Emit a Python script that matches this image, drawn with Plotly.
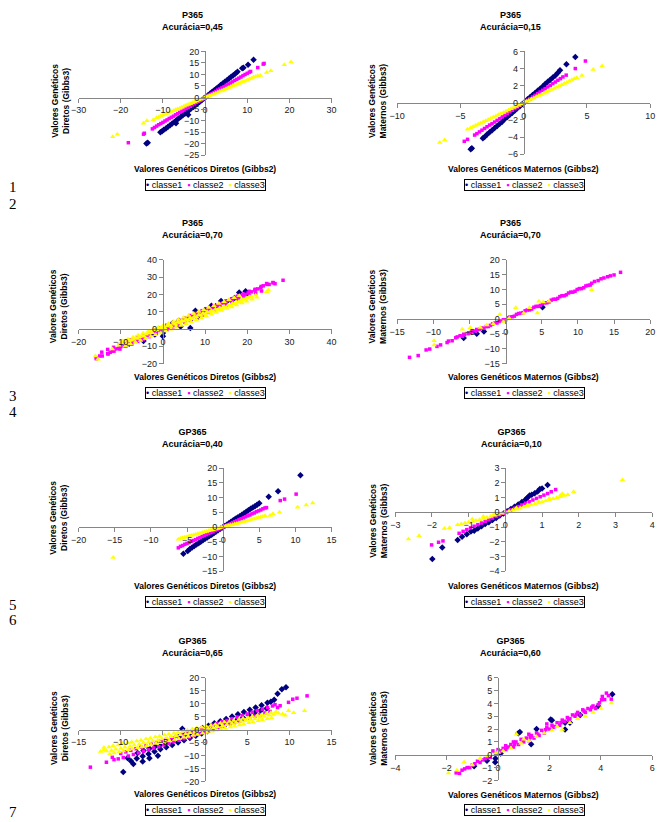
import plotly.graph_objects as go

W, H = 664, 822

# ---------------- data ((x, y) pairs) ----------------
classes = ["classe1", "classe2", "classe3"]

p1_classe1 = [(-13.9,-19.9),(-13.6,-19.6),(-10.6,-15.1),(-10.2,-14.6),(-9.8,-14.0),(-9.3,-13.4),(-8.8,-12.7),(-8.3,-12.0),(-7.8,-11.3),(-7.3,-10.6),(-6.9,-11.2),(-6.8,-9.9),(-6.3,-9.1),(-5.8,-8.4),(-5.3,-7.7),(-4.8,-7.0),(-4.3,-6.2),(-4.0,-7.5),(-3.8,-5.5),(-3.3,-4.8),(-2.8,-4.1),(-2.3,-3.3),(-1.8,-2.6),(-1.3,-1.9),(-0.8,-1.2),(-0.3,-0.4),(0.2,0.3),(0.7,1.0),(1.2,1.7),(1.7,2.5),(2.2,3.2),(2.7,3.9),(3.2,4.6),(3.7,5.4),(4.2,6.1),(4.7,6.8),(5.2,7.5),(5.7,8.3),(6.2,9.0),(6.7,9.7),(7.2,10.4),(7.7,11.2),(8.8,12.7),(9.1,12.9),(10.2,14.2),(11.5,16.4)]
p1_classe2 = [(-18.2,-19.6),(-14.6,-15.9),(-14.4,-15.5),(-12.5,-13.6),(-12.0,-13.0),(-11.5,-12.4),(-11.0,-11.8),(-10.5,-11.3),(-10.0,-10.8),(-9.5,-10.2),(-9.0,-9.7),(-8.5,-9.1),(-8.0,-8.6),(-7.5,-8.1),(-7.0,-7.5),(-6.5,-7.0),(-6.0,-6.4),(-5.5,-5.9),(-5.0,-5.4),(-4.5,-4.8),(-4.0,-4.3),(-3.5,-3.8),(-3.0,-3.2),(-2.5,-2.7),(-2.0,-2.1),(-1.5,-1.6),(-1.0,-1.1),(-0.5,-0.5),(0.0,0.0),(0.5,0.5),(1.0,1.1),(1.5,1.6),(2.0,2.1),(2.5,2.6),(3.0,3.2),(3.5,3.7),(4.0,4.2),(4.5,4.7),(5.0,5.3),(5.5,5.8),(6.0,6.3),(6.5,6.8),(7.0,7.4),(7.5,7.9),(8.0,8.4),(8.5,8.9),(9.0,9.5),(9.5,10.0),(10.0,10.5),(10.5,11.0),(10.8,11.3),(12.5,13.0),(13.8,14.5),(14.0,14.8)]
p1_classe3 = [(-21.9,-17.0),(-20.8,-15.9),(-14.6,-11.2),(-13.8,-10.1),(-12.3,-9.7),(-11.5,-8.8),(-11.0,-8.4),(-10.5,-8.0),(-10.0,-7.6),(-9.5,-7.2),(-9.0,-6.9),(-8.5,-6.5),(-8.0,-6.1),(-7.5,-5.7),(-7.0,-5.3),(-6.5,-5.0),(-6.0,-4.6),(-5.5,-4.2),(-5.0,-3.8),(-4.5,-3.4),(-4.0,-3.0),(-3.5,-2.7),(-3.0,-2.3),(-2.5,-1.9),(-2.0,-1.5),(-1.5,-1.1),(-1.0,-0.8),(-0.5,-0.4),(0.0,0.0),(0.5,0.4),(1.0,0.8),(1.5,1.1),(2.0,1.5),(2.5,1.9),(3.0,2.3),(3.5,2.7),(4.0,3.0),(4.5,3.4),(5.0,3.8),(5.5,4.2),(6.0,4.6),(6.5,5.0),(7.0,5.3),(7.5,5.7),(8.0,6.1),(8.5,6.5),(9.0,6.9),(9.5,7.2),(10.0,7.6),(10.5,8.0),(11.0,8.4),(11.5,8.8),(12.0,9.1),(12.5,9.4),(13.1,9.6),(14.6,10.9),(15.6,11.6),(18.8,14.2),(20.4,15.4)]

p2_classe1 = [(-4.19,-5.42),(-4.1,-5.3),(-3.23,-4.15),(-3.1,-4.0),(-2.9,-3.7),(-2.7,-3.45),(-2.5,-3.2),(-2.3,-2.95),(-2.1,-2.7),(-1.9,-2.45),(-1.7,-2.2),(-1.5,-1.9),(-1.3,-1.65),(-1.1,-1.4),(-0.9,-1.15),(-0.7,-0.9),(-0.5,-0.65),(-0.3,-0.4),(-0.1,-0.13),(0.1,0.13),(0.3,0.4),(0.5,0.65),(0.7,0.9),(0.9,1.15),(1.1,1.4),(1.3,1.65),(1.5,1.9),(1.7,2.2),(1.9,2.45),(2.1,2.7),(2.3,2.95),(2.5,3.2),(2.7,3.5),(2.87,3.8),(3.38,4.5),(4.08,5.34)]
p2_classe2 = [(-4.7,-4.5),(-4.44,-4.27),(-3.88,-3.77),(-3.7,-3.6),(-3.5,-3.4),(-3.3,-3.2),(-3.1,-3.0),(-2.9,-2.8),(-2.7,-2.6),(-2.5,-2.45),(-2.3,-2.25),(-2.1,-2.05),(-1.9,-1.85),(-1.7,-1.65),(-1.5,-1.45),(-1.3,-1.25),(-1.1,-1.05),(-0.9,-0.87),(-0.7,-0.68),(-0.5,-0.48),(-0.3,-0.29),(-0.1,-0.1),(0.1,0.1),(0.3,0.29),(0.5,0.48),(0.7,0.68),(0.9,0.87),(1.1,1.07),(1.3,1.26),(1.5,1.46),(1.7,1.65),(1.9,1.85),(2.1,2.04),(2.3,2.24),(2.5,2.43),(2.7,2.63),(2.9,2.82),(3.1,3.02),(3.36,3.23),(4.08,4.0),(4.88,4.88)]
p2_classe3 = [(-6.64,-4.65),(-6.25,-4.35),(-4.44,-3.1),(-4.2,-2.95),(-4.0,-2.8),(-3.8,-2.66),(-3.6,-2.52),(-3.4,-2.38),(-3.2,-2.24),(-3.0,-2.1),(-2.8,-1.96),(-2.6,-1.82),(-2.4,-1.68),(-2.2,-1.54),(-2.0,-1.4),(-1.8,-1.26),(-1.6,-1.12),(-1.4,-0.98),(-1.2,-0.84),(-1.0,-0.7),(-0.8,-0.56),(-0.6,-0.42),(-0.4,-0.28),(-0.2,-0.14),(0.0,0.0),(0.2,0.14),(0.4,0.28),(0.6,0.42),(0.8,0.56),(1.0,0.7),(1.2,0.84),(1.4,0.98),(1.6,1.12),(1.8,1.26),(2.0,1.4),(2.2,1.54),(2.4,1.68),(2.6,1.82),(2.8,1.96),(3.0,2.1),(3.2,2.24),(3.4,2.38),(3.6,2.52),(3.8,2.66),(4.0,2.8),(4.2,2.94),(4.6,3.2),(5.5,3.9),(6.2,4.3)]

p3_classe1 = [(19.6,21.9),(18.1,21.1),(16.2,16.8),(13.8,16.2),(11.5,13.5),(7.7,10.5),(8.5,7.2),(6.5,5.3),(4.2,1.5),(6.5,0.6),(3.8,4.8),(0.0,-4.2),(-4.6,-7.0),(0.0,-2.3),(-1.9,-3.2),(2.3,3.4),(5.0,5.7),(15.0,15.5),(10.0,11.0),(12.5,13.2),(17.0,18.0),(20.0,20.5),(-2.0,-1.5),(1.0,0.5),(-8.0,-8.5)]
p3_classe2 = [(-15.8,-16.6),(-15.0,-15.6),(-13.1,-14.3),(-12.5,-13.5),(-12.0,-12.8),(-11.2,-11.5),(-10.5,-11.2),(-10.0,-10.2),(-9.2,-9.8),(-8.5,-8.6),(-8.0,-8.3),(-7.2,-7.5),(-6.5,-6.2),(-6.0,-6.8),(-5.2,-5.0),(-4.5,-4.6),(-3.8,-3.5),(-3.0,-3.2),(-2.2,-2.0),(-1.5,-1.8),(-0.8,-0.5),(0.0,-0.3),(0.8,1.0),(1.5,1.2),(2.3,2.6),(3.0,3.4),(3.8,3.5),(4.5,4.9),(5.2,5.6),(6.0,6.3),(6.8,7.2),(7.5,7.5),(8.2,8.9),(9.0,9.2),(9.8,10.4),(10.5,10.8),(11.2,11.9),(12.0,12.3),(12.8,13.4),(13.5,13.8),(14.2,15.0),(15.0,15.3),(15.8,16.5),(16.5,16.9),(17.2,18.0),(18.0,18.4),(18.8,19.5),(19.5,19.9),(20.2,20.8),(21.0,21.5),(21.8,22.5),(22.5,23.2),(23.2,23.9),(23.8,25.0),(24.6,26.3),(25.2,25.8),(26.2,26.7),(26.6,26.2),(28.5,28.2),
              (-14.5,-13.4),(-13.1,-11.8),(-11.7,-10.6),(-10.3,-9.0),(-8.9,-7.7),(-7.5,-6.2),(-6.1,-4.9),(-4.7,-3.4),(-3.3,-2.1),(-1.9,-0.6),(-0.5,0.7),(0.9,2.2),(2.3,3.5),(3.7,5.0),(5.1,6.2),(6.5,7.8),(7.9,9.0),(9.3,10.6),(10.7,11.8),(12.1,13.4),(13.5,14.6),(14.9,16.2),(16.3,17.4),(17.7,19.0),(19.1,20.2),(20.5,21.8),(21.9,23.0),(23.3,24.6),(24.7,25.8),(26.1,26.9),
              (-15.8,-17.2),(-14.4,-15.6),(-13.0,-14.4),(-11.6,-12.8),(-10.2,-11.6),(-8.8,-10.0),(-7.4,-8.8),(-6.0,-7.2),(-4.6,-5.9),(-3.2,-4.4),(-1.8,-3.1),(-0.4,-1.6),(1.0,-0.3),(2.4,1.2),(3.8,2.5),(5.2,4.0),(6.6,5.2),(8.0,6.8),(9.4,8.0),(10.8,9.6),(12.2,10.8),(13.6,12.4),(15.0,13.6),(16.4,15.2),(17.8,16.4),(19.2,18.0),(20.6,19.2),(22.0,20.8),(23.4,22.0)]
p3_classe3 = [(-16.0,-15.6),(-15.4,-17.5),(-12.0,-11.5),(-10.5,-9.4),(-9.8,-8.0),(-9.2,-7.0),(-8.5,-8.2),(-8.0,-7.0),(-7.5,-6.5),(-7.0,-6.0),(-6.5,-5.0),(-6.0,-5.5),(-5.5,-4.5),(-5.0,-3.8),(-4.5,-4.2),(-4.0,-3.0),(-3.5,-2.5),(-3.0,-1.5),(-2.5,-2.2),(-2.0,-1.0),(-1.5,-0.5),(-1.0,0.2),(-0.5,0.8),(0.0,1.2),(0.5,0.5),(1.0,1.8),(1.5,2.5),(2.0,1.5),(2.5,3.2),(3.0,2.8),(3.5,4.0),(4.0,3.5),(4.5,4.8),(5.0,4.5),(5.5,5.5),(6.0,5.2),(6.5,6.5),(7.0,6.0),(7.5,7.2),(8.0,7.0),(8.5,8.2),(9.0,7.8),(9.5,9.0),(10.0,8.5),(10.5,10.0),(11.0,9.5),(11.5,10.5),(12.0,10.2),(12.5,11.5),(13.0,11.0),(13.5,12.2),(14.0,11.8),(14.5,13.0),(15.0,12.5),(15.5,13.8),(16.0,13.5),(16.5,14.8),(17.0,14.5),(17.5,15.5),(18.0,15.8),(18.5,16.5),(19.0,17.0),(19.5,17.2),(20.0,18.0),(20.5,18.5),(21.0,19.0),(22.0,19.5),(24.6,21.5),(25.0,22.5),
              (-9.5,-7.0),(-8.3,-5.9),(-7.1,-4.7),(-5.9,-3.6),(-4.7,-2.5),(-3.5,-1.3),(-2.3,-0.2),(-1.1,1.0),(0.1,2.1),(1.3,3.2),(2.5,4.4),(3.7,5.5),(4.9,6.7),(6.1,7.8),(7.3,9.0),(8.5,10.1),(9.7,11.2),(10.9,12.4),(12.1,13.5),(13.3,14.7),(14.5,15.8),(15.7,16.9),(16.9,18.1),(18.1,19.2),
              (-8.9,-9.8),(-7.7,-8.7),(-6.5,-7.6),(-5.3,-6.6),(-4.1,-5.5),(-2.9,-4.4),(-1.7,-3.3),(-0.5,-2.3),(0.7,-1.2),(1.9,-0.1),(3.1,1.0),(4.3,2.1),(5.5,3.1),(6.7,4.2),(7.9,5.3),(9.1,6.4),(10.3,7.5),(11.5,8.5),(12.7,9.6),(13.9,10.7),(15.1,11.8),(16.3,12.8),(17.5,13.9),(18.7,15.0),(19.9,16.1),(21.1,17.2),(22.3,18.3)]

p4_classe1 = [(-5.8,-6.4),(-4.0,-4.9),(-3.0,-4.2),(5.1,4.0)]
p4_classe2 = [(-13.3,-12.9),(-12.1,-12.3),(-11.0,-10.4),(-9.0,-8.7),(-8.1,-7.9),(-7.4,-7.3),(-6.7,-6.0),(-5.8,-5.1),(-5.2,-4.9),(-4.8,-4.5),(-4.2,-4.1),(-3.6,-3.4),(-3.0,-3.1),(-2.4,-2.5),(-1.8,-1.6),(-1.2,-1.3),(-0.6,-0.5),(0.0,-0.2),(0.6,0.7),(1.2,1.0),(1.8,1.9),(2.4,2.2),(3.0,3.1),(3.6,3.4),(4.2,4.3),(4.8,4.6),(5.4,5.5),(6.0,5.8),(6.6,6.7),(7.2,7.0),(7.8,7.9),(8.4,8.2),(9.0,9.1),(9.6,9.4),(10.2,10.3),(10.8,10.6),(11.4,11.4),(11.9,12.1),(12.3,12.7),(13.2,13.6),(14.1,14.3),(15.0,14.9),(15.9,15.8),
              (-6.9,-6.3),(-6.3,-5.6),(-5.7,-5.3),(-5.1,-4.6),(-4.5,-4.2),(-3.9,-3.6),(-3.3,-3.0),(-2.7,-2.5),(-2.1,-2.1),(-1.5,-1.3),(-0.9,-0.8),(-0.3,-0.2),(0.3,0.5),(0.9,0.8),(1.5,1.6),(2.1,2.0),(2.7,2.8),(3.3,3.1),(3.9,4.0),(4.5,4.3),(5.1,5.2),(5.7,5.5),(6.3,6.4),(6.9,6.7),(7.5,7.6),(8.1,7.9),(8.7,8.8),(9.3,9.1),(9.9,10.0),(10.5,10.3),(11.1,11.2),(11.7,11.5),(12.8,13.0),(13.6,13.9),(14.5,14.6),(-9.5,-9.2),(-10.5,-10.1),(-7.9,-7.4),(-4.0,-3.5),(-6.0,-5.8)]
p4_classe3 = [(-9.9,-7.3),(-9.9,-8.7),(-6.0,-3.4),(-4.9,-2.9),(-2.6,-2.0),(-1.7,-1.6),(-0.8,1.6),(1.4,3.8),(3.3,3.8),(4.4,2.1),(4.6,6.0),(6.0,6.0),(11.9,9.9),(0.5,0.3),(2.5,2.0),(-0.3,-0.8),(5.2,5.8),(-3.5,-2.8)]

p5_classe1 = [(-5.5,-9.1),(-4.9,-8.2),(-4.6,-7.5),(-4.3,-7.0),(-4.0,-6.5),(-3.7,-6.0),(-3.4,-5.5),(-3.1,-5.0),(-2.8,-4.5),(-2.5,-4.0),(-2.2,-3.6),(-1.9,-3.1),(-1.6,-2.6),(-1.3,-2.1),(-1.0,-1.6),(-0.7,-1.1),(-0.4,-0.6),(-0.1,-0.2),(0.2,0.3),(0.5,0.8),(0.8,1.3),(1.1,1.8),(1.4,2.3),(1.7,2.8),(2.0,3.2),(2.3,3.7),(2.6,4.2),(2.9,4.7),(3.2,5.2),(3.5,5.7),(3.8,6.2),(4.1,6.6),(4.4,7.1),(4.7,7.6),(5.0,8.1),(6.3,10.3),(7.6,12.2),(10.7,17.6)]
p5_classe2 = [(-6.2,-7.1),(-5.9,-6.6),(-5.6,-6.3),(-5.3,-5.9),(-5.0,-5.6),(-4.7,-5.3),(-4.4,-4.9),(-4.1,-4.6),(-3.8,-4.3),(-3.5,-3.9),(-3.2,-3.6),(-2.9,-3.2),(-2.6,-2.9),(-2.3,-2.6),(-2.0,-2.2),(-1.7,-1.9),(-1.4,-1.6),(-1.1,-1.2),(-0.8,-0.9),(-0.5,-0.6),(-0.2,-0.2),(0.1,0.1),(0.4,0.5),(0.7,0.8),(1.0,1.1),(1.3,1.5),(1.6,1.8),(1.9,2.1),(2.2,2.5),(2.5,2.8),(2.8,3.1),(3.1,3.5),(3.4,3.8),(3.7,4.1),(4.0,4.5),(4.3,4.8),(4.6,5.2),(4.9,5.5),(5.2,5.8),(5.5,6.2),(5.8,6.5),(6.0,6.6),(7.9,9.0),(8.5,9.5),(10.1,11.2)]
p5_classe3 = [(-15.2,-10.4),(-6.2,-4.2),(-5.9,-3.9),(-5.6,-3.7),(-5.3,-3.5),(-5.0,-3.3),(-4.7,-3.1),(-4.4,-2.9),(-4.1,-2.7),(-3.8,-2.5),(-3.5,-2.3),(-3.2,-2.1),(-2.9,-1.9),(-2.6,-1.7),(-2.3,-1.5),(-2.0,-1.3),(-1.7,-1.1),(-1.4,-0.9),(-1.1,-0.7),(-0.8,-0.5),(-0.5,-0.3),(-0.2,-0.1),(0.1,0.1),(0.4,0.3),(0.7,0.5),(1.0,0.7),(1.3,0.8),(1.6,1.0),(1.9,1.2),(2.2,1.4),(2.5,1.6),(2.8,1.8),(3.1,2.0),(3.4,2.2),(3.7,2.4),(4.0,2.6),(4.3,2.8),(4.6,3.0),(4.9,3.2),(5.2,3.4),(5.5,3.6),(5.8,3.8),(6.5,3.9),(6.9,4.5),(7.8,5.0),(10.3,6.7),(11.5,7.5),(12.4,8.2)]

p6_classe1 = [(-1.99,-3.18),(-1.72,-2.4),(-1.3,-1.88),(-1.18,-1.66),(-1.05,-1.5),(-0.94,-1.3),(-0.85,-1.25),(-0.75,-1.1),(-0.65,-0.95),(-0.55,-0.8),(-0.45,-0.68),(-0.35,-0.52),(-0.25,-0.38),(-0.15,-0.22),(-0.05,-0.08),(0.05,0.08),(0.15,0.23),(0.25,0.38),(0.35,0.54),(0.45,0.7),(0.55,0.88),(0.6,1.0),(0.66,1.14),(0.72,1.2),(0.8,1.3),(0.88,1.42),(0.94,1.59),(1.0,1.62),(1.15,1.86)]
p6_classe2 = [(-2.01,-2.22),(-1.82,-2.04),(-1.7,-1.95),(-1.26,-1.43),(-1.15,-1.3),(-1.05,-1.18),(-0.95,-1.06),(-0.85,-0.95),(-0.75,-0.84),(-0.65,-0.73),(-0.55,-0.62),(-0.45,-0.5),(-0.35,-0.39),(-0.25,-0.28),(-0.15,-0.17),(-0.05,-0.06),(0.05,0.06),(0.15,0.17),(0.25,0.28),(0.35,0.39),(0.45,0.5),(0.55,0.61),(0.65,0.72),(0.75,0.84),(0.85,0.95),(0.95,1.06),(1.05,1.17),(1.15,1.28),(1.25,1.4),(1.37,1.55)]
p6_classe3 = [(-2.64,-1.82),(-2.35,-1.59),(-1.66,-1.1),(-1.52,-1.05),(-1.3,-0.85),(-1.2,-0.8),(-1.1,-0.72),(-1.0,-0.68),(-0.9,-0.62),(-0.8,-0.55),(-0.7,-0.5),(-0.6,-0.42),(-0.5,-0.35),(-0.4,-0.28),(-0.3,-0.2),(-0.2,-0.14),(-0.1,-0.07),(0.0,0.0),(0.1,0.07),(0.2,0.14),(0.3,0.21),(0.4,0.28),(0.5,0.36),(0.6,0.43),(0.7,0.5),(0.8,0.57),(0.9,0.64),(1.0,0.71),(1.1,0.78),(1.2,0.85),(1.3,0.92),(1.4,0.99),(1.5,1.06),(1.6,1.14),(1.7,1.2),(1.86,1.41),(1.55,1.26),(3.19,2.2),(-0.9,-0.45),(-0.6,-0.28),(-0.3,-0.1),(0.3,0.3),(0.6,0.5),(0.9,0.75),(1.2,0.95),(1.5,1.15)]

p7_classe1 = [(-9.7,-16.4),(-8.5,-13.3),(-7.4,-12.3),(-6.6,-11.1),(-5.6,-10.1),(-2.7,0.3),(8.6,13.8),(9.1,15.6),(9.6,16.3),(8.2,11.5),(-9.2,-11.0),
              (-8.0,-9.0),(-7.3,-8.1),(-6.6,-7.3),(-5.9,-6.4),(-5.2,-5.5),(-4.5,-4.6),(-3.8,-3.8),(-3.1,-2.9),(-2.4,-2.0),(-1.7,-1.1),(-1.0,-0.3),(-0.3,0.6),(0.4,1.5),(1.1,2.4),(1.8,3.2),(2.5,4.1),(3.2,5.0),(3.9,5.9),(4.6,6.8),(5.3,7.6),(6.0,8.5),(6.7,9.4),(7.4,10.3),(7.8,10.7),
              (-8.8,-12.1),(-8.1,-11.2),(-7.4,-10.3),(-6.7,-9.4),(-6.0,-8.5),(-5.3,-7.6),(-4.6,-6.8),(-3.9,-5.9),(-3.2,-5.0),(-2.5,-4.1),(-1.8,-3.2),(-1.1,-2.4),(-0.4,-1.5),(0.3,-0.6),(1.0,0.3),(1.7,1.1),(2.4,2.0),(3.1,2.9),(3.8,3.8),(4.5,4.6),(5.2,5.5),(5.9,6.4),(6.6,7.3),(7.3,8.1)]
p7_classe2 = [(-13.6,-14.5),(-11.7,-12.6),(-11.0,-10.7),(-10.8,-11.6),(8.9,9.2),(9.9,10.5),(10.9,12.1),(12.1,13.0),(8.6,8.5),(8.3,9.6),(10.4,11.7),
              (-10.0,-9.2),(-9.4,-8.6),(-8.8,-8.0),(-8.2,-7.4),(-7.6,-6.8),(-7.0,-6.2),(-6.4,-5.6),(-5.8,-5.0),(-5.2,-4.4),(-4.6,-3.8),(-4.0,-3.2),(-3.4,-2.6),(-2.8,-1.9),(-2.2,-1.4),(-1.6,-0.7),(-1.0,-0.1),(-0.4,0.5),(0.2,1.1),(0.8,1.7),(1.4,2.3),(2.0,3.0),(2.6,3.5),(3.2,4.2),(3.8,4.8),(4.4,5.4),(5.0,6.0),(5.6,6.7),(6.2,7.3),(6.8,7.9),(7.4,8.5),(8.0,9.1),
              (-10.3,-11.3),(-9.7,-10.8),(-9.1,-10.2),(-8.5,-9.6),(-7.9,-9.0),(-7.3,-8.3),(-6.7,-7.8),(-6.1,-7.1),(-5.5,-6.6),(-4.9,-5.9),(-4.3,-5.3),(-3.7,-4.7),(-3.1,-4.1),(-2.5,-3.5),(-1.9,-2.9),(-1.3,-2.3),(-0.7,-1.7),(-0.1,-1.0),(0.5,-0.4),(1.1,0.2),(1.7,0.8),(2.3,1.4),(2.9,2.1),(3.5,2.7),(4.1,3.3),(4.7,3.9),(5.3,4.5),(5.9,5.2),(6.5,5.7),(7.1,6.4),(7.7,7.0)]
p7_classe3 = [(-12.0,-7.8),(-12.4,-8.5),(9.9,7.3),(11.8,7.3),(10.5,6.5),(9.2,6.0),(9.5,5.5),
              (-12.0,-6.9),(-11.4,-6.7),(-10.9,-6.2),(-10.3,-5.9),(-9.8,-5.4),(-9.2,-5.2),(-8.7,-4.8),(-8.1,-4.4),(-7.6,-4.1),(-7.0,-3.6),(-6.5,-3.3),(-5.9,-2.9),(-5.4,-2.6),(-4.8,-2.1),(-4.3,-1.8),(-3.7,-1.4),(-3.2,-1.0),(-2.6,-0.6),(-2.1,-0.3),(-1.5,0.2),(-1.0,0.5),(-0.4,0.9),(0.1,1.3),(0.7,1.6),(1.2,2.0),(1.8,2.4),(2.3,2.8),(2.9,3.1),(3.4,3.5),(4.0,3.9),(4.5,4.3),(5.1,4.6),(5.6,5.0),(6.2,5.4),(6.7,5.7),(7.3,6.2),(7.8,6.5),(8.4,6.9),
              (-11.7,-8.3),(-11.1,-8.1),(-10.6,-7.6),(-10.0,-7.3),(-9.5,-6.8),(-8.9,-6.5),(-8.4,-6.0),(-7.8,-5.7),(-7.3,-5.2),(-6.7,-4.9),(-6.2,-4.4),(-5.6,-4.1),(-5.1,-3.6),(-4.5,-3.3),(-4.0,-2.8),(-3.4,-2.5),(-2.9,-2.0),(-2.3,-1.7),(-1.8,-1.2),(-1.2,-0.9),(-0.7,-0.4),(-0.1,-0.1),(0.4,0.4),(1.0,0.7),(1.5,1.1),(2.1,1.5),(2.6,1.9),(3.2,2.3),(3.7,2.7),(4.3,3.1),(4.8,3.5),(5.4,3.9),(5.9,4.2),(6.5,4.7),(7.0,5.0),(7.6,5.5),(8.1,5.8),(8.7,6.3),
              (-11.3,-9.4),(-10.8,-9.0),(-10.2,-8.6),(-9.7,-8.3),(-9.1,-7.8),(-8.6,-7.5),(-8.0,-7.0),(-7.5,-6.7),(-6.9,-6.2),(-6.4,-5.9),(-5.8,-5.4),(-5.3,-5.1),(-4.7,-4.6),(-4.2,-4.3),(-3.6,-3.8),(-3.1,-3.5),(-2.5,-3.0),(-2.0,-2.7),(-1.4,-2.2),(-0.9,-1.9),(-0.3,-1.4),(0.2,-1.1),(0.8,-0.6),(1.3,-0.3),(1.9,0.2),(2.4,0.5),(3.0,1.0),(3.5,1.3),(4.1,1.8),(4.6,2.1),(5.2,2.6),(5.7,2.9),(6.3,3.4),(6.8,3.7),(7.4,4.2),(7.9,4.5)]

p8_classe1 = [(4.45,4.72),(3.9,3.77),(2.61,2.49),(2.05,2.74),(2.1,2.69),(2.61,1.97),(1.29,0.82),(0.79,1.67),(0.85,1.77),(-0.43,-0.46),(-0.11,-0.59),(-0.93,-0.9),(3.2,3.1),(0.1,0.1),(-0.1,-0.3),(1.5,2.0),(2.8,2.5)]
p8_classe2 = [(-1.63,-1.41),(-1.5,-1.45),(-1.3,-1.1),(-1.1,-1.0),(-0.9,-0.7),(-0.7,-0.6),(-0.5,-0.3),(-0.3,-0.2),(-0.1,0.1),(0.1,0.3),(0.2,0.5),(0.3,0.4),(0.4,0.6),(0.5,0.8),(0.6,0.6),(0.7,1.0),(0.8,0.8),(0.9,1.2),(1.0,1.0),(1.1,1.3),(1.2,1.1),(1.3,1.5),(1.4,1.3),(1.5,1.7),(1.6,1.5),(1.7,1.9),(1.8,1.7),(1.9,2.1),(2.0,2.0),(2.1,2.3),(2.2,2.2),(2.3,2.5),(2.4,2.3),(2.5,2.7),(2.6,2.6),(2.7,2.9),(2.8,2.8),(2.9,3.1),(3.0,3.0),(3.1,3.3),(3.2,3.1),(3.3,3.5),(3.4,3.3),(3.5,3.6),(3.6,3.5),(3.7,3.8),(3.8,3.6),(3.9,3.9),(4.03,4.28),(4.06,4.54),(4.22,4.8),(4.41,4.33),(0.6,1.0),(1.2,1.6),(1.9,2.4),(0.3,0.7),(0.0,0.4),(-0.2,0.3),
              (-1.4,-1.2),(-1.2,-1.0),(-1.0,-0.8),(-0.8,-0.5),(-0.6,-0.4),(-0.4,-0.2),(0.05,0.2),(0.35,0.55),(0.65,0.8),(0.95,1.05),(1.25,1.35),(1.55,1.6),(1.85,1.95),(2.15,2.15),(2.45,2.5),(2.75,2.7),(3.05,3.15),(3.35,3.4),(3.65,3.7),(3.95,4.05),(4.15,4.3),(4.3,4.6)]
p8_classe3 = [(-1.93,-1.41),(-1.32,-0.59),(-1.6,-1.2),(-1.0,-0.8),(-0.7,-0.3),(-0.4,-0.1),(-0.1,0.1),(0.2,0.3),(0.5,0.5),(0.72,1.59),(0.9,0.9),(1.2,1.1),(1.5,1.4),(1.8,1.7),(2.1,1.9),(2.5,1.97),(2.8,2.5),(3.1,2.8),(3.4,3.0),(3.7,3.3),(4.0,3.6),(4.41,4.03),(2.3,2.2),(1.0,1.2),(0.0,0.2)]

titles = ["P365", "P365", "P365", "P365", "GP365", "GP365", "GP365", "GP365"]
accuracies = ["0,45", "0,15", "0,70", "0,70", "0,40", "0,10", "0,65", "0,60"]
x_titles = ["Valores Genéticos Diretos (Gibbs2)", "Valores Genéticos Maternos (Gibbs2)"] * 4
y_titles = [("Valores Genéticos", "Diretos (Gibbs3)"), ("Valores Genéticos", "Maternos (Gibbs3)")] * 4
x_ranges = [(-30, 30), (-10, 10), (-20, 40), (-15, 20), (-20, 15), (-3, 4), (-15, 15), (-4, 6)]
y_ranges = [(-25, 20), (-6, 6), (-20, 40), (-15, 20), (-15, 20), (-4, 3), (-20, 20), (-2, 6)]
x_dticks = [10, 5, 10, 5, 5, 1, 5, 2]
y_dticks = [5, 2, 10, 5, 5, 1, 5, 1]
row_numbers = ["1", "2", "3", "4", "5", "6", "7"]

panel_data = [
    (p1_classe1, p1_classe2, p1_classe3),
    (p2_classe1, p2_classe2, p2_classe3),
    (p3_classe1, p3_classe2, p3_classe3),
    (p4_classe1, p4_classe2, p4_classe3),
    (p5_classe1, p5_classe2, p5_classe3),
    (p6_classe1, p6_classe2, p6_classe3),
    (p7_classe1, p7_classe2, p7_classe3),
    (p8_classe1, p8_classe2, p8_classe3),
]

# ---------------- layout geometry (pixels) ----------------
plot_boxes = [  # x0, x1, y0(top), y1(bottom)
    (72, 330, 47, 152), (397, 655, 47, 151),
    (72, 330, 258, 363), (397, 655, 258, 363),
    (72, 330, 469, 573), (395, 657, 469, 573),
    (72, 330, 681, 786), (395, 657, 681, 785),
]
title_pos = [(188, 16), (513, 16), (188, 227), (513, 227), (188, 438), (514, 438), (188, 650), (513, 650)]
xtitle_pos = [(201, 166), (526, 166), (201, 377), (526, 377), (201, 588), (526, 588), (201, 799), (526, 800)]
ytitle_pos = [(54, 97), (377, 97), (51, 305), (377, 305), (52, 519), (378, 522), (52, 732), (377, 732)]
legend_pos = [(201, 182), (527, 182), (201, 393), (527, 393), (201, 604), (527, 604), (201, 815), (527, 815)]
rownum_pos = [184, 201, 396, 412, 607, 623, 817]

COLORS = {"classe1": "#000080", "classe2": "#FF00FF", "classe3": "#FFFF00"}
SYMBOLS = {"classe1": "diamond", "classe2": "square", "classe3": "triangle-up"}
SIZES = {"classe1": 5, "classe2": 3.5, "classe3": 5}
LEGEND_GLYPHS = {"classe1": "•", "classe2": "▪", "classe3": "▪"}
FONT = "Arial, Liberation Sans, sans-serif"
AXIS_COLOR = "#868686"

fig = go.Figure()
layout = dict(
    width=W, height=H, autosize=False,
    margin=dict(l=0, r=0, t=0, b=0),
    paper_bgcolor="white", plot_bgcolor="white",
    showlegend=False,
    font=dict(family=FONT, size=9, color="#000"),
)
annotations = []

def px(x):
    return x / W

def py(y):
    return 1 - y / H

for i in range(8):
    sfx = "" if i == 0 else str(i + 1)
    x0, x1, y0, y1 = plot_boxes[i]
    xr, yr = x_ranges[i], y_ranges[i]
    xzero = x0 + (0 - xr[0]) / (xr[1] - xr[0]) * (x1 - x0)
    yzero = y0 + (yr[1] - 0) / (yr[1] - yr[0]) * (y1 - y0)
    common = dict(showgrid=False, zeroline=False, showline=True, linecolor=AXIS_COLOR,
                  linewidth=1, ticks="outside", ticklen=4, tickcolor=AXIS_COLOR,
                  tickfont=dict(family=FONT, size=9, color="#222"), tickmode="linear",
                  anchor="free", fixedrange=True)
    layout["xaxis" + sfx] = dict(common, domain=[px(x0), px(x1)], range=list(xr),
                                 tick0=xr[0], dtick=x_dticks[i], position=py(yzero))
    layout["yaxis" + sfx] = dict(common, domain=[py(y1), py(y0)], range=list(yr),
                                 tick0=yr[0], dtick=y_dticks[i], position=px(xzero))
    for cname, pts in zip(classes, panel_data[i]):
        fig.add_trace(go.Scatter(
            x=[p[0] for p in pts], y=[p[1] for p in pts], mode="markers", name=cname,
            xaxis="x" + sfx, yaxis="y" + sfx, cliponaxis=False, hoverinfo="skip",
            marker=dict(color=COLORS[cname], symbol=SYMBOLS[cname], size=SIZES[cname],
                        line=dict(width=0)),
        ))
    tx, ty = title_pos[i]
    annotations.append(dict(x=px(tx), y=py(ty), xref="paper", yref="paper", showarrow=False,
                            text="<b>%s</b><br><b>Acurácia=%s</b>" % (titles[i], accuracies[i]),
                            font=dict(size=9, family=FONT), xanchor="center", yanchor="middle"))
    xtx, xty = xtitle_pos[i]
    annotations.append(dict(x=px(xtx), y=py(xty), xref="paper", yref="paper", showarrow=False,
                            text="<b>%s</b>" % x_titles[i], font=dict(size=8.5, family=FONT),
                            xanchor="center", yanchor="middle"))
    ytx, yty = ytitle_pos[i]
    annotations.append(dict(x=px(ytx), y=py(yty), xref="paper", yref="paper", showarrow=False,
                            text="<b>%s</b><br><b>%s</b>" % y_titles[i],
                            textangle=-90, font=dict(size=8.5, family=FONT),
                            xanchor="center", yanchor="middle"))
    lx, ly = legend_pos[i]
    leg_text = "  ".join(
        '<span style="color:%s">%s</span> %s' % (COLORS[c], LEGEND_GLYPHS[c], c)
        for c in classes)
    annotations.append(dict(x=px(lx), y=py(ly), xref="paper", yref="paper", showarrow=False,
                            text=leg_text, font=dict(size=9, family=FONT, color="#000"),
                            bordercolor="#000", borderwidth=1, borderpad=0, bgcolor="white",
                            xanchor="center", yanchor="middle"))

for lab, yy in zip(row_numbers, rownum_pos):
    annotations.append(dict(x=px(-1), y=py(yy), xref="paper", yref="paper", showarrow=False,
                            text=lab, height=14, valign="middle",
                            font=dict(size=15, family="Liberation Serif, Times New Roman, serif", color="#000"),
                            xanchor="left", yanchor="middle"))

layout["annotations"] = annotations
fig.update_layout(**layout)
fig.write_html("out.html", config={"displayModeBar": False},
               post_script="document.body.style.margin='0';")
